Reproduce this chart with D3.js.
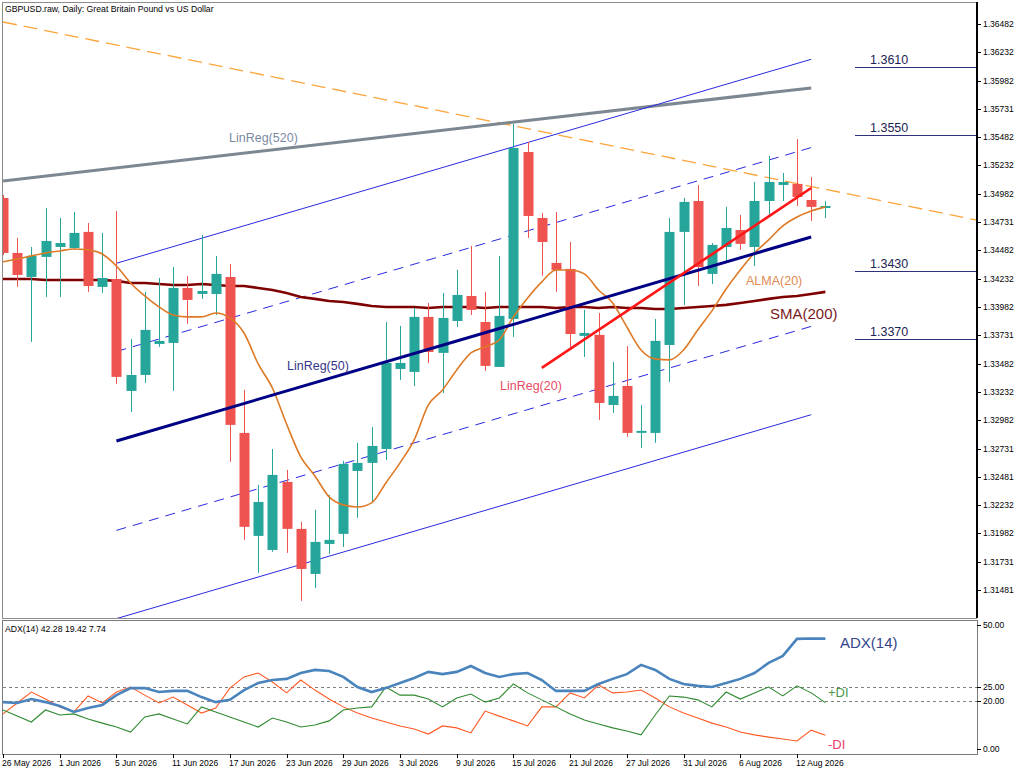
<!DOCTYPE html>
<html>
<head>
<meta charset="utf-8">
<script src="https://cdn.jsdelivr.net/npm/d3@7"></script>
<style>
  body { margin:0; background:#fff; }
  text { font-family:"Liberation Sans", Arial, sans-serif; }
</style>
</head>
<body>
<div id="chart"></div>
<script>
// trading days shown on the chart (2026)
var dates = ["26 May","27 May","28 May","29 May","1 Jun","2 Jun","3 Jun","4 Jun","5 Jun","8 Jun",
  "9 Jun","10 Jun","11 Jun","12 Jun","15 Jun","16 Jun","17 Jun","18 Jun","19 Jun","22 Jun",
  "23 Jun","24 Jun","25 Jun","26 Jun","29 Jun","30 Jun","1 Jul","2 Jul","3 Jul","6 Jul",
  "7 Jul","8 Jul","9 Jul","10 Jul","13 Jul","14 Jul","15 Jul","16 Jul","17 Jul","20 Jul",
  "21 Jul","22 Jul","23 Jul","24 Jul","27 Jul","28 Jul","29 Jul","30 Jul","31 Jul","3 Aug",
  "4 Aug","5 Aug","6 Aug","7 Aug","10 Aug","11 Aug","12 Aug","13 Aug","14 Aug"];

var opens = [1.34945,1.34459,1.34247,1.34424,1.34512,1.34503,1.34645,1.34159,1.34229,1.33240,
  1.33381,1.33655,1.33664,1.34150,1.34097,1.34097,1.34247,1.32869,1.31959,1.31835,
  1.32436,1.32021,1.31623,1.31888,1.31977,1.32533,1.32604,1.32727,1.33434,1.33408,
  1.33894,1.33576,1.33858,1.34079,1.33849,1.33452,1.33876,1.35351,1.34768,1.34371,
  1.34318,1.33726,1.33735,1.33116,1.33284,1.32878,1.32869,1.33646,1.34645,1.34918,
  1.34274,1.34512,1.34662,1.34512,1.34918,1.35060,1.35069,1.34927,1.34857];
var highs = [1.34971,1.34592,1.34512,1.34857,1.34768,1.34821,1.34724,1.34636,1.34830,1.33699,
  1.34115,1.34238,1.34335,1.34256,1.34618,1.34433,1.34362,1.33249,1.32410,1.32727,
  1.32542,1.32083,1.32189,1.32321,1.32622,1.32781,1.32922,1.33849,1.33814,1.33973,
  1.34017,1.34106,1.34309,1.34521,1.34115,1.34433,1.35599,1.35440,1.34812,1.34821,
  1.34556,1.33956,1.33929,1.33496,1.33637,1.33116,1.33876,1.34768,1.34945,1.35060,
  1.34547,1.34866,1.34795,1.35086,1.35316,1.35166,1.35466,1.35130,1.34918];
var lows = [1.34441,1.34159,1.33673,1.34070,1.34070,1.34494,1.34115,1.34106,1.33302,1.33054,
  1.33311,1.33629,1.33240,1.33832,1.34053,1.33911,1.32613,1.31924,1.31632,1.31818,
  1.31809,1.31385,1.31500,1.31800,1.31862,1.32118,1.32259,1.32630,1.33337,1.33284,
  1.33487,1.33222,1.33805,1.33911,1.33417,1.33452,1.33717,1.34592,1.34256,1.34115,
  1.33629,1.33540,1.32984,1.33046,1.32834,1.32736,1.32781,1.33319,1.34000,1.34167,
  1.34185,1.34388,1.34486,1.34344,1.34777,1.34918,1.34874,1.34742,1.34768];
var closes = [1.34459,1.34265,1.34433,1.34565,1.34547,1.34636,1.34167,1.34238,1.33364,1.33381,
  1.33779,1.33682,1.34150,1.34044,1.34123,1.34274,1.32940,1.32039,1.32259,1.32498,
  1.32021,1.31667,1.31906,1.31924,1.32595,1.32604,1.32754,1.33487,1.33487,1.33894,
  1.33584,1.33885,1.34088,1.33956,1.33461,1.33903,1.35387,1.34786,1.34556,1.34309,
  1.33743,1.33752,1.33134,1.33196,1.32869,1.32887,1.33682,1.34645,1.34910,1.34335,
  1.34530,1.34680,1.34539,1.34918,1.35086,1.35086,1.34954,1.34866,1.34874];

var sma200 = [1.34229,1.34229,1.34229,1.34220,1.34220,1.34220,1.34220,1.34220,1.34212,1.34194,
  1.34194,1.34185,1.34176,1.34176,1.34185,1.34176,1.34167,1.34167,1.34150,1.34132,
  1.34106,1.34070,1.34053,1.34035,1.34026,1.34009,1.33991,1.33982,1.33982,1.33982,
  1.33973,1.33982,1.33982,1.33982,1.33973,1.33982,1.33982,1.33982,1.33982,1.33973,
  1.33982,1.33982,1.33973,1.33982,1.33973,1.33973,1.33964,1.33964,1.33973,1.33982,
  1.33991,1.34000,1.34017,1.34035,1.34053,1.34070,1.34079,1.34097,1.34115];
var alma20 = [1.34380,1.34406,1.34433,1.34459,1.34477,1.34494,1.34486,1.34450,1.34344,1.34194,
  1.34079,1.33982,1.33911,1.33894,1.33894,1.33929,1.33885,1.33752,1.33478,1.33266,
  1.32948,1.32657,1.32489,1.32304,1.32233,1.32215,1.32251,1.32427,1.32604,1.32807,
  1.33116,1.33249,1.33425,1.33576,1.33629,1.33690,1.33894,1.34061,1.34203,1.34309,
  1.34309,1.34274,1.34132,1.34017,1.33805,1.33602,1.33523,1.33514,1.33602,1.33779,
  1.33947,1.34141,1.34309,1.34459,1.34574,1.34698,1.34777,1.34830,1.34866];

// [bar index, price] end points of the drawn regression / trend lines
var linReg520 = [[0,1.35095],[57,1.35917]];
var linReg50 = [[8,1.32798],[57,1.34600]];
var linReg50Dev = [0.0079, 0.0157];
var linReg20 = [[38,1.33443],[57,1.35033]];
var trendLine = [[0,1.36500],[57,1.35047]];
var levels = [1.3610, 1.3550, 1.3430, 1.3370];

var priceTicks = ["1.36482","1.36232","1.35982","1.35731","1.35482","1.35232","1.34982","1.34731",
  "1.34482","1.34232","1.33982","1.33731","1.33482","1.33232","1.32982","1.32731","1.32481",
  "1.32232","1.31982","1.31731","1.31481"];

var adx14 = [19.6,19.3,20.7,19.6,18.2,16.1,17.5,18.6,22.1,24.6,
  24.6,23.2,23.6,23.6,21.4,19.6,20.4,23.9,26.4,27.5,
  27.9,30.0,31.1,30.7,28.6,25.0,23.2,24.6,26.4,28.2,
  30.4,29.6,30.4,32.5,30.0,28.6,29.6,30.0,27.5,23.6,
  23.6,23.6,26.1,27.9,29.6,32.9,31.1,27.9,26.1,25.4,
  25.0,26.4,27.9,30.0,33.6,36.1,42.2,42.3,42.28];
var plusDI = [16.8,14.6,12.5,16.8,15.0,15.4,13.6,12.1,10.7,8.9,
  14.3,15.4,13.6,11.8,17.9,16.1,14.3,12.5,10.7,13.9,
  12.5,10.7,11.4,12.9,16.8,17.5,17.9,25.0,22.1,22.1,
  20.7,17.9,21.1,22.5,19.6,21.1,26.1,22.9,20.4,17.9,
  15.4,13.2,11.8,10.4,9.3,7.9,15.0,21.8,21.4,20.4,
  17.9,23.2,20.7,22.9,25.0,21.8,25.4,22.9,19.42];
var minusDI = [15.4,19.3,23.2,20.7,17.9,16.1,21.8,19.3,23.2,25.0,
  22.1,19.3,21.4,18.6,15.7,17.5,24.6,28.6,30.0,26.8,
  22.9,27.5,23.9,20.7,17.9,15.7,13.9,12.5,11.1,10.0,
  8.2,11.1,10.4,8.6,16.4,14.6,12.9,11.1,17.9,17.9,
  22.9,21.1,25.7,22.9,23.2,23.9,21.1,17.9,15.7,13.9,
  12.1,10.7,8.9,7.9,7.1,6.4,5.7,9.6,7.74];
var adxLevels = [25, 20];
var adxBounds = [50, 0];

//---------------------------------------------------------------------//
//                               LAYOUT                                //
//---------------------------------------------------------------------//
var W = 1024, H = 773;
var left = 3, right = 977;
var mainTop = 2, mainBottom = 618;
var adxTop = 620, adxBottom = 754;

var svg = d3.select("#chart").append("svg").attr("width", W).attr("height", H);
svg.append("rect").attr("width", W).attr("height", H).style("fill", "#fff");

var x = d3.scaleLinear().domain([0, 56]).range([3, 797]);
var y = d3.scaleLinear().domain([1.31481, 1.36482]).range([590, 24]);
var ya = d3.scaleLinear().domain([0, 50]).range([757, 617]);

var bw = 10;

var defs = svg.append("defs");
defs.append("clipPath").attr("id", "clipMain").append("rect")
  .attr("x", left).attr("y", mainTop).attr("width", right - left).attr("height", mainBottom - mainTop);
defs.append("clipPath").attr("id", "clipAdx").append("rect")
  .attr("x", left).attr("y", adxTop).attr("width", right - left).attr("height", adxBottom - adxTop);

var main = svg.append("g").attr("clip-path", "url(#clipMain)");

function seg(pts) {
  return d3.line().x(function(d){ return x(d[0]); }).y(function(d){ return y(d[1]); })(pts);
}
function extendTo(pts, xi) {
  var k = (pts[1][1] - pts[0][1]) / (pts[1][0] - pts[0][0]);
  return [pts[0], [xi, pts[0][1] + k * (xi - pts[0][0])]];
}

//---------------------------------------------------------------------//
//                          LINES BEHIND BARS                          //
//---------------------------------------------------------------------//
var rightIdx = x.invert(right);

// trend line (dashed orange)
main.append("path").attr("d", seg(extendTo(trendLine, rightIdx)))
  .style("fill", "none").style("stroke", "#ffa43a").style("stroke-width", 1.3).style("stroke-dasharray", "14,7");

// LinReg(520)
main.append("path").attr("d", seg(linReg520))
  .style("fill", "none").style("stroke", "#7d8791").style("stroke-width", 3);

// LinReg(50) channel
linReg50Dev.forEach(function(dv, k) {
  [-1, 1].forEach(function(s) {
    var pts = linReg50.map(function(p){ return [p[0], p[1] + s * dv]; });
    main.append("path").attr("d", seg(pts))
      .style("fill", "none").style("stroke", "#2a2ae0").style("stroke-width", 1)
      .style("stroke-dasharray", k === 0 ? "10,7" : null);
  });
});

// SMA(200)
var smaLine = d3.line().x(function(d, i){ return x(i); }).y(function(d){ return y(d); });
main.append("path").attr("d", smaLine(sma200))
  .style("fill", "none").style("stroke", "#7f0000").style("stroke-width", 2.6);

//---------------------------------------------------------------------//
//                              CANDLES                                //
//---------------------------------------------------------------------//
var bars = dates.map(function(d, i) {
  return { i: i, o: opens[i], h: highs[i], l: lows[i], c: closes[i] };
});
var up = "#26a69a", dn = "#ef5350";

var cg = main.append("g");
cg.selectAll("line.wick").data(bars).enter().append("line")
  .attr("x1", function(d){ return Math.round(x(d.i)) + 0.5; })
  .attr("x2", function(d){ return Math.round(x(d.i)) + 0.5; })
  .attr("y1", function(d){ return y(d.h); })
  .attr("y2", function(d){ return y(d.l); })
  .style("stroke", function(d){ return d.c >= d.o ? up : dn; }).style("stroke-width", 1);
cg.selectAll("rect.body").data(bars).enter().append("rect")
  .attr("x", function(d){ return Math.round(x(d.i)) - bw / 2 + 0.5; })
  .attr("width", bw)
  .attr("y", function(d){ return y(Math.max(d.o, d.c)); })
  .attr("height", function(d){ return Math.max(2, Math.abs(y(d.o) - y(d.c))); })
  .style("fill", function(d){ return d.c >= d.o ? up : dn; });

//---------------------------------------------------------------------//
//                           LINES ON TOP                              //
//---------------------------------------------------------------------//
var almaLine = d3.line().curve(d3.curveMonotoneX)
  .x(function(d, i){ return x(i); }).y(function(d){ return y(d); });
main.append("path").attr("d", almaLine(alma20))
  .style("fill", "none").style("stroke", "#de7a26").style("stroke-width", 1.6);

main.append("path").attr("d", seg(linReg50))
  .style("fill", "none").style("stroke", "#000085").style("stroke-width", 3);
main.append("path").attr("d", seg(linReg20))
  .style("fill", "none").style("stroke", "#ff1616").style("stroke-width", 2.6);

// horizontal levels
var lv = main.append("g");
lv.selectAll("line").data(levels).enter().append("line")
  .attr("x1", 855).attr("x2", right)
  .attr("y1", function(d){ return Math.round(y(d)) + 0.5; })
  .attr("y2", function(d){ return Math.round(y(d)) + 0.5; })
  .style("stroke", "#30307a").style("stroke-width", 1);
lv.selectAll("text").data(levels).enter().append("text")
  .attr("x", 870).attr("y", function(d){ return y(d) - 3; })
  .text(function(d){ return d.toFixed(4); })
  .style("font-size", "12.5px").style("fill", "#1c2455");

// labels
function label(t, px, py, size, col) {
  svg.append("text").attr("x", px).attr("y", py).text(t)
    .style("font-size", size + "px").style("fill", col);
}
label("LinReg(520)", 229, 142, 12.5, "#7b8aa3");
label("LinReg(50)", 287, 370, 12.5, "#35358a");
label("LinReg(20)", 500, 390, 12.5, "#e84a64");
label("ALMA(20)", 746, 285, 12.5, "#e08a52");
label("SMA(200)", 770, 319, 15, "#7a1a1a");

//---------------------------------------------------------------------//
//                            PRICE AXIS                               //
//---------------------------------------------------------------------//
svg.append("rect").attr("x", left - 0.5).attr("y", mainTop + 0.5)
  .attr("width", right - left).attr("height", mainBottom - mainTop)
  .style("fill", "none").style("stroke", "#8c8c8c").style("stroke-width", 1);
svg.append("line").attr("x1", right).attr("x2", right).attr("y1", mainTop).attr("y2", mainBottom)
  .style("stroke", "#000").style("stroke-width", 2);

var pa = svg.append("g");
pa.selectAll("line").data(priceTicks).enter().append("line")
  .attr("x1", right).attr("x2", right + 4)
  .attr("y1", function(d){ return Math.round(y(+d)) + 0.5; })
  .attr("y2", function(d){ return Math.round(y(+d)) + 0.5; })
  .style("stroke", "#000");
pa.selectAll("text").data(priceTicks).enter().append("text")
  .attr("x", right + 6).attr("y", function(d){ return y(+d) + 3; })
  .text(function(d){ return d; })
  .style("font-size", "8.5px").style("fill", "#000");

label("GBPUSD.raw, Daily:  Great Britain Pound vs US Dollar", 5, 12, 8.7, "#000");

//---------------------------------------------------------------------//
//                              ADX PANEL                              //
//---------------------------------------------------------------------//
svg.append("rect").attr("x", left - 0.5).attr("y", adxTop + 0.5)
  .attr("width", right - left + 1).attr("height", adxBottom - adxTop)
  .style("fill", "none").style("stroke", "#7a7a7a").style("stroke-width", 1);

var ag = svg.append("g").attr("clip-path", "url(#clipAdx)");
ag.selectAll("line.lvl").data(adxLevels).enter().append("line")
  .attr("x1", left).attr("x2", right)
  .attr("y1", function(d){ return Math.round(ya(d)) + 0.5; })
  .attr("y2", function(d){ return Math.round(ya(d)) + 0.5; })
  .style("stroke", "#808080").style("stroke-dasharray", "3,3");

var aLine = d3.line().x(function(d, i){ return x(i); }).y(function(d){ return ya(d); });
ag.append("path").attr("d", aLine(minusDI))
  .style("fill", "none").style("stroke", "#ff5a24").style("stroke-width", 1.1);
ag.append("path").attr("d", aLine(plusDI))
  .style("fill", "none").style("stroke", "#2f8a2f").style("stroke-width", 1.1);
ag.append("path").attr("d", aLine(adx14))
  .style("fill", "none").style("stroke", "#4a84bd").style("stroke-width", 2.6);

label("ADX(14) " + adx14[adx14.length - 1].toFixed(2) + " " + plusDI[plusDI.length - 1].toFixed(2) + " " +
  minusDI[minusDI.length - 1].toFixed(2), 5, 632, 8.7, "#000");
label("ADX(14)", 840, 648, 15, "#34468a");
label("+DI", 828, 697, 13, "#4a9a4a");
label("-DI", 828, 749, 13, "#e8406a");

var adxTickVals = adxLevels.concat(adxBounds);
var at = svg.append("g");
function adxPos(v) { return Math.max(adxTop + 5, Math.min(adxBottom - 5, ya(v))); }
at.selectAll("line").data(adxTickVals).enter().append("line")
  .attr("x1", right).attr("x2", right + 4)
  .attr("y1", function(d){ return Math.round(adxPos(d)) + 0.5; })
  .attr("y2", function(d){ return Math.round(adxPos(d)) + 0.5; })
  .style("stroke", "#000");
at.selectAll("text").data(adxTickVals).enter().append("text")
  .attr("x", right + 6).attr("y", function(d){ return adxPos(d) + 3; })
  .text(function(d){ return d.toFixed(2); })
  .style("font-size", "8.5px").style("fill", "#000");

//---------------------------------------------------------------------//
//                               TIME AXIS                             //
//---------------------------------------------------------------------//
var tickIdx = d3.range(0, dates.length, 4);
var ta = svg.append("g");
ta.selectAll("line").data(tickIdx).enter().append("line")
  .attr("x1", function(i){ return Math.round(x(i)) + 0.5; })
  .attr("x2", function(i){ return Math.round(x(i)) + 0.5; })
  .attr("y1", adxBottom).attr("y2", adxBottom + 4)
  .style("stroke", "#000");
ta.selectAll("text").data(tickIdx).enter().append("text")
  .attr("x", function(i){ return Math.round(x(i)) - 1; })
  .attr("y", adxBottom + 12)
  .text(function(i){ return dates[i] + " 2026"; })
  .style("font-size", "8.5px").style("fill", "#000");
</script>
</body>
</html>
